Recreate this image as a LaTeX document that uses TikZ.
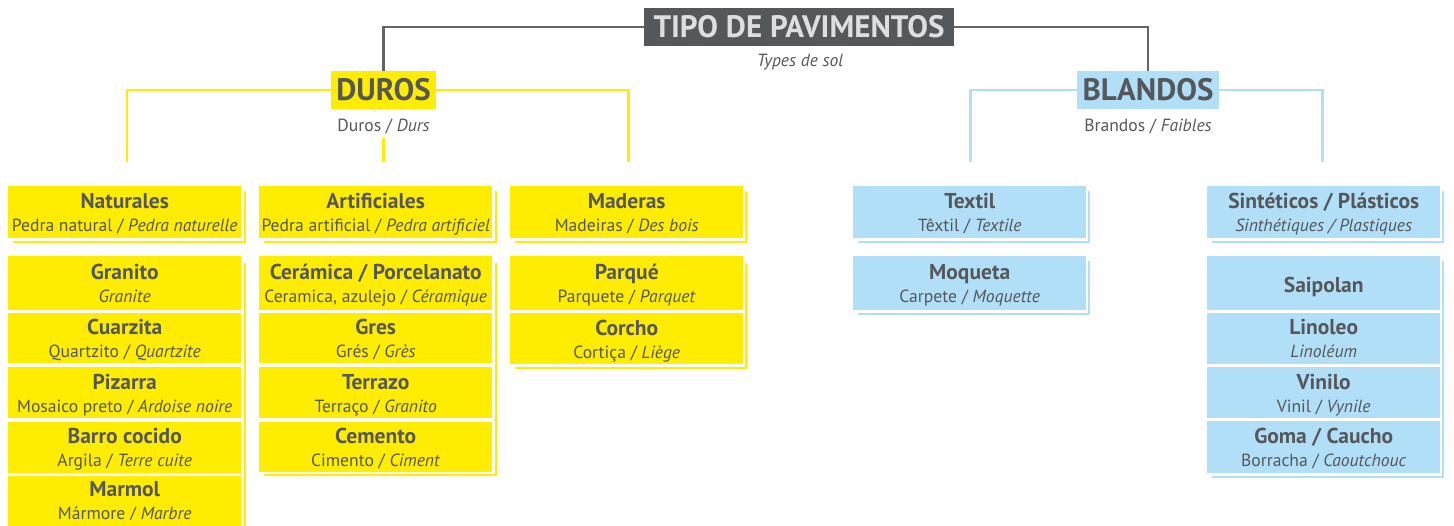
\documentclass[tikz,border=0pt]{standalone}
\usepackage{fontspec}
\setmainfont{PT Sans}
\definecolor{yel}{HTML}{FFED00}
\definecolor{blu}{HTML}{B1DFF7}
\definecolor{txt}{HTML}{55575A}
\definecolor{hdbg}{HTML}{55585B}
\definecolor{hdtx}{HTML}{DEDEDE}
\definecolor{gln}{HTML}{626466}
\tikzset{
  card/.style={inner sep=0pt, minimum width=233pt, draw=none},
  ttl/.style={anchor=base, inner sep=0pt, text=txt, font=\fontsize{21.5}{24}\selectfont\bfseries},
  sub/.style={anchor=base, inner sep=0pt, text=txt, font=\fontsize{17.6}{20}\selectfont},
  big/.style={inner sep=0pt, minimum height=38pt, text=txt, font=\fontsize{31}{32}\selectfont\bfseries},
  gline/.style={draw=gln, line width=2.5pt},
  yline/.style={draw=yel, line width=2.5pt},
  bline/.style={draw=blu, line width=2.5pt},
}
% shadow: x0 y0 x1 y1 colour
\newcommand\shd[5]{%
  \fill[#5] (#1+5,#2+5) rectangle (#3+5,#4+5);
  \fill[white] (#1,#2) rectangle (#3+2.5,#4+2.5);}
% card with two lines: name x0 y0 y1 colour title sub
\newcommand\cardB[7]{%
  \node[card, fill=#5, minimum height={#4-#3}, anchor=north west] (#1) at (#2,#3) {};
  \node[ttl] (#1-t) at ([yshift=3.5pt]#1.center) {#6};
  \node[sub] (#1-s) at ([yshift=-19.5pt]#1.center) {#7};}
\newcommand\cardA[6]{%
  \node[card, fill=#5, minimum height={#4-#3}, anchor=north west] (#1) at (#2,#3) {};
  \node[ttl] (#1-t) at ([yshift=-9pt]#1.center) {#6};}
\begin{document}
\begin{tikzpicture}[x=1pt,y=-1pt]
\useasboundingbox (0,0) rectangle (1454,525);
\clip (0,0) rectangle (1454,525);

% header
\node[big, fill=hdbg, text=hdtx, minimum width=310pt] (title) at (799,27) {TIPO DE PAVIMENTOS};
\node[sub, font=\fontsize{17.6}{20}\selectfont\itshape] (title-s) at (800,66) {Types de sol};
\node[big, fill=yel, minimum width=105pt] (duros) at (383.5,90) {DUROS};
\node[sub] (duros-s) at (383.5,131) {Duros / \textit{Durs}};
\node[big, fill=blu, minimum width=142pt] (blandos) at (1148,90) {BLANDOS};
\node[sub] (blandos-s) at (1148,131) {Brandos / \textit{Faibles}};

\coordinate (d1) at (127,162);
\coordinate (d2a) at (383.5,138);
\coordinate (d2) at (383.5,162);
\coordinate (d3) at (628.5,162);
\coordinate (b1) at (970.5,162);
\coordinate (b2) at (1322.5,162);

\draw[gline] (title.west) -| (duros.north);
\draw[gline] (title.east) -| (blandos.north);
\draw[yline] (duros.west) -| (d1);
\draw[yline] (duros.east) -| (d3);
\draw[yline] (d2a) -- (d2);
\draw[bline] (blandos.west) -| (b1);
\draw[bline] (blandos.east) -| (b2);

% shadows
\shd{8}{186}{241}{238}{yel}
\shd{8}{258}{241}{540}{yel}
\shd{259}{186}{492}{238}{yel}
\shd{259}{258}{492}{471}{yel}
\shd{510}{186}{742}{238}{yel}
\shd{510}{258}{742}{364}{yel}
\shd{853}{186}{1085}{238}{blu}
\shd{853}{256}{1085}{310}{blu}
\shd{1207}{186}{1439}{238}{blu}
\shd{1207}{256}{1439}{473}{blu}

% column 1
\cardB{nat}{8}{186}{238}{yel}{Naturales}{Pedra natural / \textit{Pedra naturelle}}
\cardB{gra}{8}{256}{310}{yel}{Granito}{\textit{Granite}}
\cardB{cua}{8}{313}{363}{yel}{Cuarzita}{Quartzito / \textit{Quartzite}}
\cardB{piz}{8}{367}{418}{yel}{Pizarra}{Mosaico preto / \textit{Ardoise noire}}
\cardB{bar}{8}{421.5}{472.5}{yel}{Barro cocido}{Argila / \textit{Terre cuite}}
\cardB{mar}{8}{476}{524}{yel}{Marmol}{Mármore / \textit{Marbre}}
\fill[yel] (8,520) rectangle (241,530);

% column 2
\cardB{art}{259}{186}{238}{yel}{Artificiales}{Pedra artificial / \textit{Pedra artificiel}}
\cardB{cer}{259}{256}{310}{yel}{Cerámica / Porcelanato}{Ceramica, azulejo / \textit{Céramique}}
\cardB{gre}{259}{313}{363}{yel}{Gres}{Grés / \textit{Grès}}
\cardB{ter}{259}{367}{418}{yel}{Terrazo}{Terraço / \textit{Granito}}
\cardB{cem}{259}{421.5}{471.5}{yel}{Cemento}{Cimento / \textit{Ciment}}

% column 3
\cardB{mad}{510}{186}{238}{yel}{Maderas}{Madeiras / \textit{Des bois}}
\cardB{par}{510}{256}{310}{yel}{Parqué}{Parquete / \textit{Parquet}}
\cardB{cor}{510}{313}{364}{yel}{Corcho}{Cortiça / \textit{Liège}}

% column 4
\cardB{tex}{853}{186}{238}{blu}{Textil}{Têxtil / \textit{Textile}}
\cardB{moq}{853}{256}{310}{blu}{Moqueta}{Carpete / \textit{Moquette}}

% column 5
\cardB{sin}{1207}{186}{238}{blu}{Sintéticos / Plásticos}{\textit{Sinthétiques / Plastiques}}
\cardA{sai}{1207}{256}{310}{blu}{Saipolan}
\cardB{lin}{1207}{313}{363.5}{blu}{Linoleo}{\textit{Linoléum}}
\cardB{vin}{1207}{367}{418}{blu}{Vinilo}{Vinil / \textit{Vynile}}
\cardB{gom}{1207}{421}{473}{blu}{Goma / Caucho}{Borracha / \textit{Caoutchouc}}
\end{tikzpicture}
\end{document}
